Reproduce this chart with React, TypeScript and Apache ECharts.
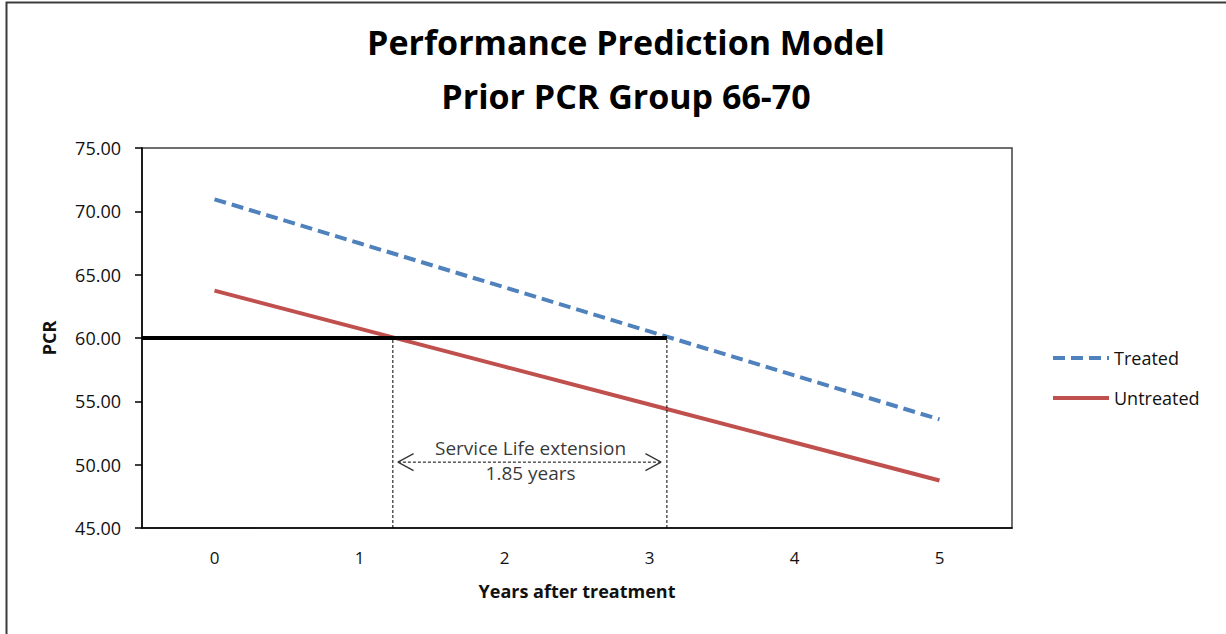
import React, { useEffect, useRef } from "react";
import * as echarts from "echarts";

const years = [0, 1, 2, 3, 4, 5];
const treated = [70.95, 67.48, 64.0, 60.52, 57.05, 53.57];
const untreated = [63.74, 60.74, 57.74, 54.75, 51.75, 48.75];
const yTicks = { min: 45, max: 75, step: 5 };
const threshold = 60;
const untreatedCross = 1.23;
const treatedCross = 3.12;
const arrowY = 50.2;
const arrowStart = 1.265;
const arrowEnd = 3.08;
const arrowArmX = 0.108;
const arrowArmY = 0.67;
const labelX = 2.18;
const extensionText = "Service Life extension";
const extensionValue = "1.85 years";

const FONT = "'Open Sans', 'Noto Sans', sans-serif";

export default function App() {
  const ref = useRef<HTMLDivElement>(null);
  useEffect(() => {
    document.body.style.margin = "0";
    const chart = echarts.init(ref.current!, null, { renderer: "svg" });
    const helper = {
      type: "line",
      symbol: "none",
      silent: true,
      legendHoverLink: false,
    };
    chart.setOption({
      animation: false,
      backgroundColor: "#fff",
      title: {
        text: "Performance Prediction Model\nPrior PCR Group 66-70",
        left: 621,
        top: 10,
        textAlign: "center",
        textStyle: {
          fontFamily: FONT,
          fontSize: 34,
          fontWeight: "bold",
          color: "#000",
          lineHeight: 54,
        },
      },
      graphic: [
        {
          type: "rect",
          shape: { x: 6.5, y: 2.5, width: 1400, height: 800 },
          style: { fill: "none", stroke: "#3c3c3c", lineWidth: 2 },
          silent: true,
        },
      ],
      legend: {
        orient: "vertical",
        left: 1046,
        top: 344,
        itemWidth: 56,
        itemHeight: 14,
        itemGap: 22,
        data: ["Treated", "Untreated"],
        itemStyle: { opacity: 0 },
        lineStyle: { width: 4 },
        textStyle: { fontFamily: FONT, fontSize: 18, color: "#111", padding: [0, 0, 0, 0] },
      },
      grid: {
        left: 142,
        right: 214,
        top: 148,
        bottom: 106,
        show: true,
        borderColor: "#404040",
        borderWidth: 1.5,
      },
      xAxis: {
        type: "value",
        min: -0.5,
        max: 5.5,
        interval: 0.5,
        name: "Years after treatment",
        nameLocation: "middle",
        nameGap: 54,
        nameTextStyle: { fontFamily: FONT, fontSize: 18, fontWeight: "bold", color: "#111" },
        axisLine: { show: true, onZero: false, lineStyle: { color: "#000", width: 1.5 } },
        axisTick: { show: false },
        splitLine: { show: false },
        axisLabel: {
          fontFamily: FONT,
          fontSize: 17,
          color: "#111",
          margin: 21,
          formatter: (v: number) => (Number.isInteger(v) && years.includes(v) ? String(v) : ""),
        },
      },
      yAxis: {
        type: "value",
        min: yTicks.min,
        max: yTicks.max,
        interval: yTicks.step,
        name: "PCR",
        nameLocation: "middle",
        nameRotate: 90,
        nameGap: 84,
        nameTextStyle: { fontFamily: FONT, fontSize: 18, fontWeight: "bold", color: "#111" },
        axisLine: { show: true, onZero: false, lineStyle: { color: "#000", width: 1.5 } },
        axisTick: { show: true, length: 7, lineStyle: { color: "#000", width: 1.5 } },
        splitLine: { show: false },
        axisLabel: {
          fontFamily: FONT,
          fontSize: 18,
          color: "#111",
          margin: 21,
          formatter: (v: number) => v.toFixed(2),
        },
      },
      series: [
        {
          name: "Treated",
          type: "line",
          symbol: "none",
          data: years.map((x, i) => [x, treated[i]]),
          color: "#4F81BD",
          lineStyle: { color: "#4F81BD", width: 4, type: [12, 6] },
          z: 3,
        },
        {
          name: "Untreated",
          type: "line",
          symbol: "none",
          data: years.map((x, i) => [x, untreated[i]]),
          color: "#C0504D",
          lineStyle: { color: "#C0504D", width: 4 },
          z: 3,
        },
        {
          ...helper,
          name: "threshold",
          data: [[-0.5, threshold], [treatedCross, threshold]],
          lineStyle: { color: "#000", width: 4 },
          z: 4,
        },
        {
          ...helper,
          name: "v1",
          data: [[untreatedCross, yTicks.min], [untreatedCross, threshold]],
          lineStyle: { color: "#000", width: 1, type: [3, 2] },
        },
        {
          ...helper,
          name: "v2",
          data: [[treatedCross, yTicks.min], [treatedCross, threshold]],
          lineStyle: { color: "#000", width: 1, type: [3, 2] },
        },
        {
          ...helper,
          name: "arrow",
          data: [[arrowStart, arrowY], [arrowEnd, arrowY]],
          lineStyle: { color: "#000", width: 1, type: [3, 2] },
        },
        {
          ...helper,
          name: "arrowL",
          data: [
            [arrowStart + arrowArmX, arrowY + arrowArmY],
            [arrowStart, arrowY],
            [arrowStart + arrowArmX, arrowY - arrowArmY],
          ],
          lineStyle: { color: "#333", width: 1.2 },
        },
        {
          ...helper,
          name: "arrowR",
          data: [
            [arrowEnd - arrowArmX, arrowY + arrowArmY],
            [arrowEnd, arrowY],
            [arrowEnd - arrowArmX, arrowY - arrowArmY],
          ],
          lineStyle: { color: "#333", width: 1.2 },
        },
        {
          type: "scatter",
          name: "annotation",
          symbolSize: 0,
          silent: true,
          data: [
            {
              value: [labelX, arrowY],
              label: { show: true, position: "top", distance: 5, formatter: extensionText },
            },
            {
              value: [labelX, arrowY],
              label: { show: true, position: "bottom", distance: 1, formatter: extensionValue },
            },
          ],
          label: { fontFamily: FONT, fontSize: 19, color: "#000" },
        },
      ],
    });
    return () => chart.dispose();
  }, []);
  return <div ref={ref} style={{ width: 1226, height: 634 }} />;
}
